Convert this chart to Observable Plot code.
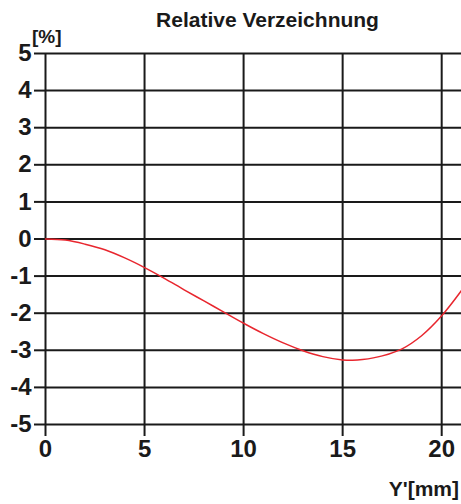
<!DOCTYPE html>
<html>
<head>
<meta charset="utf-8">
<script src="https://cdn.jsdelivr.net/npm/d3@7"></script>
<script src="https://cdn.jsdelivr.net/npm/@observablehq/plot@0.6"></script>
<style>
  html, body { margin: 0; padding: 0; background: #fff; }
  #wrap { position: relative; width: 461px; height: 504px; font-family: "Liberation Sans", Arial, sans-serif; font-weight: bold; color: #1a1a1a; }
  .lbl { position: absolute; white-space: nowrap; line-height: 1; }
  #title { left: 0; width: 535px; top: 9px; text-align: center; font-size: 21px; }
  #ylab { left: 32px; top: 27px; font-size: 19px; }
  #xlab { right: 2px; top: 478px; font-size: 21px; }
</style>
</head>
<body>
<div id="wrap">
  <div id="chart"></div>
  <div class="lbl" id="title">Relative Verzeichnung</div>
  <div class="lbl" id="ylab">[%]</div>
  <div class="lbl" id="xlab">Y'[mm]</div>
</div>
<script>
const imageHeight = [0, 1, 2, 3, 4, 5, 6, 7, 8, 9, 10, 11, 12, 13, 14, 15, 15.5, 16, 17, 18, 19, 20, 21];
const distortion = [0, -0.03, -0.14, -0.29, -0.51, -0.77, -1.06, -1.37, -1.67, -1.97, -2.27, -2.55, -2.8, -3.01, -3.17, -3.26, -3.27, -3.25, -3.15, -2.96, -2.6, -2.07, -1.39];
const xTicks = [0, 5, 10, 15, 20];
const yTicks = [5, 4, 3, 2, 1, 0, -1, -2, -3, -4, -5];

const data = imageHeight.map((x, i) => ({x, y: distortion[i]}));

const chart = Plot.plot({
  width: 461,
  height: 504,
  marginLeft: 45,
  marginRight: 0,
  marginTop: 53,
  marginBottom: 80,
  style: {fontFamily: "'Liberation Sans', Arial, sans-serif", fontWeight: "bold", fontSize: "24px", color: "#1a1a1a", overflow: "visible"},
  x: {domain: [0, 21], ticks: xTicks, label: null},
  y: {domain: [-5, 5], ticks: yTicks, label: null},
  marks: [
    Plot.gridX(xTicks, {stroke: "#1a1a1a", strokeOpacity: 1, strokeWidth: 2}),
    Plot.gridY(yTicks, {stroke: "#1a1a1a", strokeOpacity: 1, strokeWidth: 2}),
    Plot.axisX(xTicks, {tickSize: 12, tickPadding: 3, stroke: "#1a1a1a", strokeWidth: 2, fill: "#1a1a1a", fontSize: 24, fontWeight: "bold", label: null}),
    Plot.axisY(yTicks, {tickSize: 11, tickPadding: 3, stroke: "#1a1a1a", strokeWidth: 2, fill: "#1a1a1a", fontSize: 24, fontWeight: "bold", label: null, tickFormat: d => d < 0 ? "-" + Math.abs(d) : String(d)}),
    Plot.line(data, {x: "x", y: "y", stroke: "#e8262e", strokeWidth: 1.5, curve: "catmull-rom"})
  ]
});
document.getElementById("chart").appendChild(chart);
</script>
</body>
</html>
